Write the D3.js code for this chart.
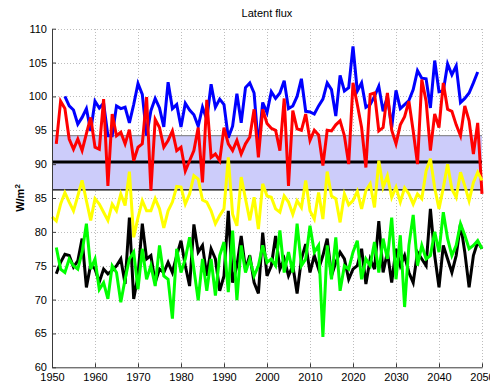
<!DOCTYPE html>
<html>
<head>
<meta charset="utf-8">
<script src="https://cdn.jsdelivr.net/npm/d3@7"></script>
<style>
  html, body { margin: 0; padding: 0; background: #fff; }
  svg { display: block; font-family: "Liberation Sans", Arial, sans-serif; }
</style>
</head>
<body>
<svg id="chart" width="490" height="386"></svg>
<script>
// Annual latent heat flux (W/m^2) per run, plus reference mean and spread band
const blueStart = 1953;
const blueValues = [100,98.6,98,95.9,96.9,98.2,94.9,99.3,98.3,99,94.2,94.2,98.6,98.2,98.4,96.1,98.8,101.9,100.3,94.2,97.9,99.7,98.3,95.5,102.1,98.2,98.8,95.5,99,98,97.3,95.6,
  98.4,96.6,101.8,98.4,99.6,98.8,93.9,95.6,100.4,96.1,101.3,102,100.5,92.5,99.1,97.6,100.7,99.7,100.5,102.3,98.2,98.6,100,102.6,97.8,97.7,97.4,98.6,99.6,102,101,97.1,103.1,
  100.8,101.3,107.4,100.8,102,98.4,98.8,100,101.5,97.8,100,95.4,100.9,98.2,98.8,99.4,101,103.8,102.7,102.6,98.3,105.3,100.7,100.8,104.8,103.2,104.5,99.1,99.7,100.5,102,103.6];

const redStart = 1951;
const redValues = [93,99.3,98.2,93.7,92.2,93.7,92,94.5,96.9,92.5,92.2,99.6,86.8,97.4,94.2,94.7,93,95.1,90.5,92.5,93,99.9,86.1,96.6,95.4,92.5,93.5,94.9,92,92.5,89,90.5,92,95.4,
  87.3,99.5,91,91.5,90.5,95.4,93,92,93.5,91.5,93,94,98.1,91,98.1,96,95.3,95,92,99.7,86.8,97.9,95.2,95,97.4,93.5,95,94.3,89.8,95,
  94.9,95.8,96.4,94.2,90,102,98.8,95.4,89.5,100.3,100.5,94.9,95.4,100.5,95,93,95.8,97,99.3,94.9,90,102.5,99.3,92,97.4,95.4,102,98.1,97.8,95.8,94.2,98.6,96.4,91.5,96.1,85.6];

const yellowStart = 1950;
const yellowValues = [82.2,81.6,84.1,85.8,84.4,83.1,85.3,87.6,84.6,81.7,84.9,84.1,82.9,81.7,84.1,83.1,85.6,83.9,88.9,79.2,82.1,84.6,83.1,83.1,84.9,83.4,80.6,83.1,84.4,86.7,86.6,84.1,85.6,88.3,87.8,
  84.7,84.4,83.1,81.2,82.4,83.4,91,82.6,80.9,88.1,84.9,81.7,85.1,80.4,87.1,85.3,85.1,83.4,82.9,85.3,84.4,82.6,84.6,83.6,87.6,83.1,81.9,85.8,81.9,88.9,85.3,84.9,81.4,
  85.6,84,84.6,86,83.4,86.1,87.1,83.6,90.5,86.6,88.3,85.1,86.6,84.4,86.5,85.6,84.1,85.6,84.9,89,90.8,86.5,83.4,86.5,90,86.3,85.1,88.8,86.8,84.6,87.3,88.8,87.6];

const blackStart = 1951;
const blackValues = [73.8,75.5,76.7,76.5,74.8,75.7,79,71.8,75.2,74.5,72.6,74.5,73.8,74.3,75,76,72.3,82.1,70.1,73.5,81.2,76,76.5,72.5,74.5,74,75.5,74,76.5,78.7,75,72,81.1,77,
  78,73.5,77.5,76,71.3,73.5,83.1,72.5,75,79.4,74.5,76.5,72.5,70.9,79.9,73.5,75,79.4,74.5,76,73.5,75,70.9,76,78.2,74,76.5,74.5,76.5,79,
  73.5,75.5,77,76,73,74.5,75,77.5,72.3,76,74.5,81.6,74,77,72.5,77.5,75,76.5,74,72.5,77,76,75,83.4,76.5,71.8,78,76,74,76.5,81.2,77,71.8,76.5,78.5,77.5];

const greenStart = 1951;
const greenValues = [77.7,74.5,74,76,75,74.5,77,81.2,74.5,76,71.5,72.5,70.1,75,74,69.6,73,76,77,71.5,77.5,73,75,72,78,73.5,73,67.2,77.5,74,76,79.2,74.5,69.9,
  76,71.3,76,70.6,76.5,78.5,71.1,80.2,69.9,78,74,76,73.5,75,78,75.5,76,75,80.2,74,77,74,81.2,75,76,80.9,77,78,64.5,78,
  73,79.2,71.3,75,74.5,77,78.7,73,76,75,78.5,74,79,76,82.1,73,79.5,68.9,78,82.5,75,78,76,76.5,80,77,82.9,79,76.5,78,81.2,79.5,77.5,78,78.7,77.5];

// Reference climatology: mean and spread band
const refMean = 90.3;
const refLow = 86.2;
const refHigh = 94.2;

const xTicks = [1950,1960,1970,1980,1990,2000,2010,2020,2030,2040,2050];
const yTicks = [60,65,70,75,80,85,90,95,100,105,110];

const svg = d3.select("#chart");
const m = { left: 52, right: 482, top: 28.7, bottom: 367.3 };

const x = d3.scaleLinear().domain([1950, 2050]).range([m.left, m.right]);
const y = d3.scaleLinear().domain([60, 110]).range([m.bottom, m.top]);

// dotted grid
const grid = svg.append("g").attr("stroke", "#bdbdbd").attr("stroke-width", 1)
  .attr("stroke-dasharray", "1,2").attr("shape-rendering", "crispEdges");
grid.selectAll("line.gx").data(xTicks.slice(1)).join("line")
  .attr("x1", d => Math.round(x(d)) + 0.5).attr("x2", d => Math.round(x(d)) + 0.5)
  .attr("y1", m.top).attr("y2", m.bottom);
grid.selectAll("line.gy").data(yTicks.slice(1)).join("line")
  .attr("x1", m.left).attr("x2", m.right)
  .attr("y1", d => Math.round(y(d)) + 0.5).attr("y2", d => Math.round(y(d)) + 0.5);

// spread band
svg.append("rect")
  .attr("x", x(1950)).attr("width", x(2050) - x(1950))
  .attr("y", y(refHigh)).attr("height", y(refLow) - y(refHigh))
  .attr("fill", "#ccccfa");
svg.append("line").attr("x1", x(1950)).attr("x2", x(2050))
  .attr("y1", y(refHigh)).attr("y2", y(refHigh)).attr("stroke", "#555").attr("stroke-width", 0.8);
svg.append("line").attr("x1", x(1950)).attr("x2", x(2050))
  .attr("y1", y(refLow)).attr("y2", y(refLow)).attr("stroke", "#000").attr("stroke-width", 1.2);
svg.append("line").attr("x1", x(1950)).attr("x2", x(2050))
  .attr("y1", y(refMean)).attr("y2", y(refMean)).attr("stroke", "#000").attr("stroke-width", 3);

const line = d3.line().x(d => x(d.year)).y(d => y(d.v));
const series = [
  { start: blueStart, values: blueValues, color: "#0000ff" },
  { start: redStart, values: redValues, color: "#ff0000" },
  { start: yellowStart, values: yellowValues, color: "#ffff00" },
  { start: blackStart, values: blackValues, color: "#000000" },
  { start: greenStart, values: greenValues, color: "#00ff00" }
];
svg.append("g").selectAll("path").data(series).join("path")
  .attr("d", s => line(s.values.map((v, i) => ({ year: s.start + i, v }))))
  .attr("fill", "none").attr("stroke", s => s.color)
  .attr("stroke-width", 3).attr("stroke-linejoin", "miter").attr("stroke-miterlimit", 4);

// axes
const axisColor = "#3a3a3a";
const xAxis = svg.append("g").attr("transform", `translate(0,${m.bottom})`)
  .call(d3.axisBottom(x).tickValues(xTicks).tickFormat(d3.format("d")).tickSizeInner(-4).tickSizeOuter(0).tickPadding(6));
const yAxis = svg.append("g").attr("transform", `translate(${m.left},0)`)
  .call(d3.axisLeft(y).tickValues(yTicks).tickSizeInner(-4).tickSizeOuter(0).tickPadding(5));
[xAxis, yAxis].forEach(a => {
  a.select(".domain").attr("stroke", axisColor);
  a.selectAll(".tick line").attr("stroke", axisColor);
  a.selectAll(".tick text").attr("fill", "#000").attr("font-size", 11)
    .attr("font-family", "Liberation Sans, Arial, sans-serif");
});

// title and unit label
svg.append("text").attr("x", 267).attr("y", 17).attr("text-anchor", "middle")
  .attr("font-size", 11).text("Latent flux");
const ylab = svg.append("text").attr("transform", "translate(24,198) rotate(-90)")
  .attr("text-anchor", "middle").attr("font-size", 11).attr("font-weight", "bold");
ylab.append("tspan").text("W/m");
ylab.append("tspan").attr("dy", -4).attr("font-size", 8).text("2");
</script>
</body>
</html>
